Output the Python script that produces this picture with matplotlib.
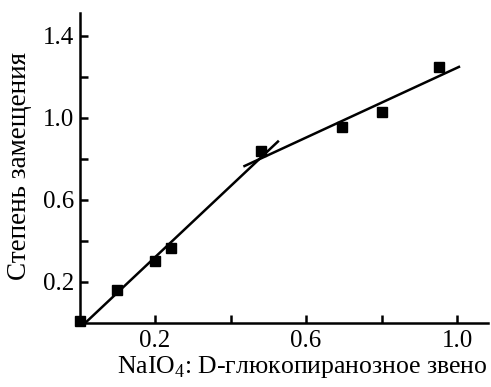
import matplotlib
matplotlib.use("Agg")
import matplotlib.pyplot as plt

# Data
x_points = [0.0, 0.10, 0.20, 0.242, 0.48, 0.695, 0.80, 0.953]
y_points = [0.01, 0.16, 0.30, 0.366, 0.836, 0.953, 1.03, 1.245]

line1_x = [0.015, 0.528]
line1_y = [0.0, 0.888]
line2_x = [0.434, 1.008]
line2_y = [0.762, 1.25]

xticks = [0.2, 0.4, 0.6, 0.8, 1.0]
xticklabels = ["0.2", "", "0.6", "", "1.0"]
yticks = [0.2, 0.4, 0.6, 0.8, 1.0, 1.2, 1.4]
yticklabels = ["0.2", "", "0.6", "", "1.0", "", "1.4"]

xlabel = "NaIO$_4$: D-глюкопиранозное звено"
ylabel = "Степень замещения"

plt.rcParams['font.family'] = ['Liberation Serif', 'DejaVu Serif']
plt.rcParams['mathtext.fontset'] = 'custom'
plt.rcParams['mathtext.rm'] = 'Liberation Serif'

W, H = 491, 387
fig = plt.figure(figsize=(W / 100, H / 100), dpi=100)
ax = fig.add_axes([79.5 / W, 1 - 323 / H, (488 - 79.5) / W, (323 - 13) / H])

ax.plot(line1_x, line1_y, color='black', lw=1.8, solid_capstyle='butt')
ax.plot(line2_x, line2_y, color='black', lw=1.8, solid_capstyle='butt')
ax.plot(x_points, y_points, 's', color='black', markersize=7, clip_on=False, zorder=5)

ax.set_xlim(0, 1.082)
ax.set_ylim(0, 1.51)
ax.set_xticks(xticks)
ax.set_xticklabels(xticklabels)
ax.set_yticks(yticks)
ax.set_yticklabels(yticklabels)

for s in ['top', 'right']:
    ax.spines[s].set_visible(False)
for s in ['left', 'bottom']:
    ax.spines[s].set_linewidth(1.8)

ax.tick_params(axis='both', direction='in', length=6, width=1.8, labelsize=18)
ax.tick_params(axis='x', pad=5)
ax.tick_params(axis='y', pad=4)

fig.text(302 / W, 1 - 367 / H, xlabel, ha='center', va='center', fontsize=18.5)
fig.text(20 / W, 1 - 166 / H, ylabel, ha='center', va='center', rotation=90, fontsize=19.5)

fig.savefig("out.png", dpi=100)
